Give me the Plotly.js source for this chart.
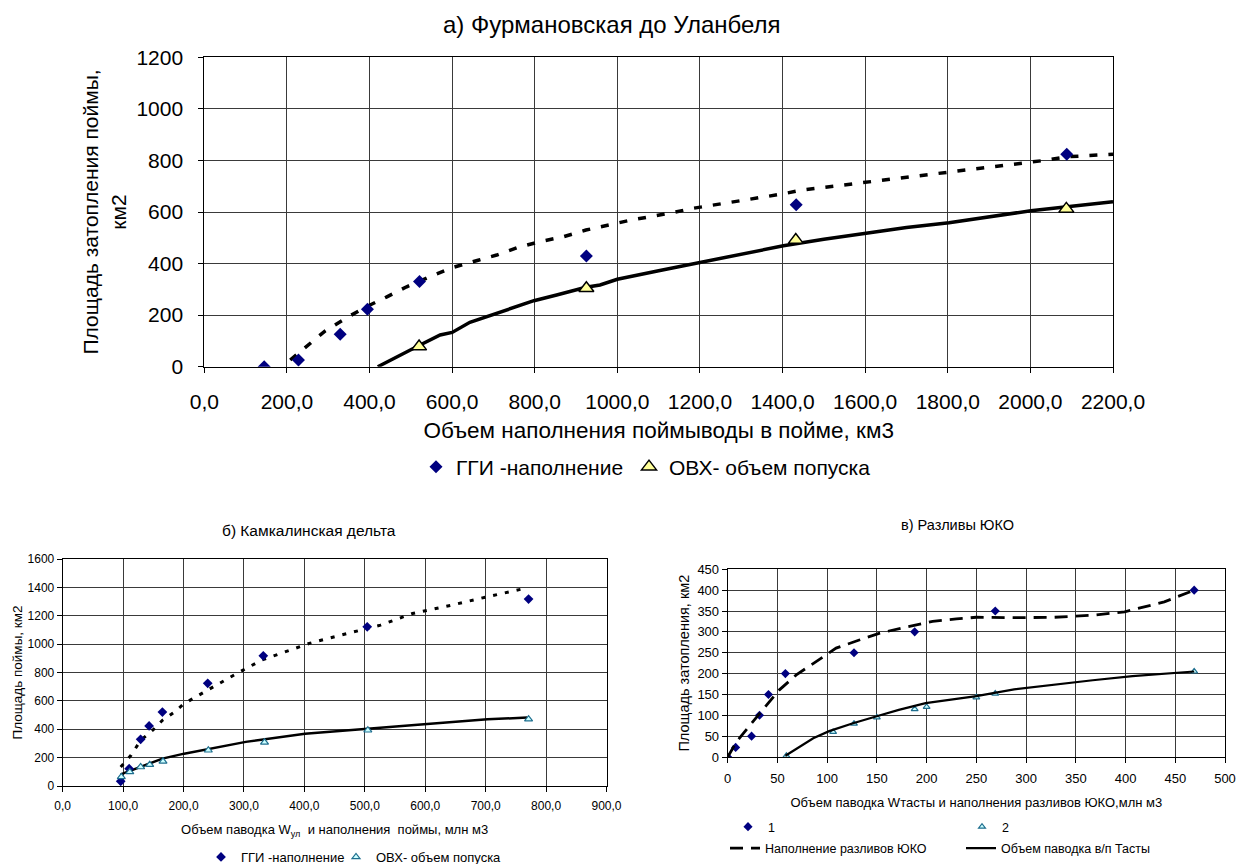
<!DOCTYPE html>
<html><head><meta charset="utf-8">
<script src="https://cdn.plot.ly/plotly-3.0.1.min.js"></script>
<style>html,body{margin:0;padding:0;background:#fff}#chart{width:1239px;height:864px}</style>
</head><body><div id="chart"></div>
<script>
// ---------- а) Фурмановская до Уланбеля ----------
const aGgiVolume = [145, 228, 329, 395, 521, 925, 1433, 2088];
const aGgiArea = [0, 26, 126, 223, 330, 429, 628, 824];
const aOvxVolume = [520, 925, 1432, 2087];
const aOvxArea = [78, 304, 491, 612];
const aFillTrendVolume = [208, 250, 292, 349, 393, 442, 490, 555, 600, 663, 708, 760, 813, 869, 924, 1031, 1079, 1135, 1182, 1284, 1396, 1447, 1610, 1768, 1927, 1982, 2029, 2087, 2200];
const aFillTrendArea = [26, 84, 138, 194, 233, 271, 310, 355, 384, 413, 433, 463, 485, 504, 530, 568, 581, 598, 614, 640, 669, 685, 717, 747, 778, 788, 799, 814, 824];
const aReleaseTrendVolume = [420, 466, 520, 571, 600, 643, 716, 798, 853, 924, 958, 1000, 1100, 1198, 1300, 1402, 1500, 1600, 1700, 1803, 1900, 2001, 2100, 2200];
const aReleaseTrendArea = [0, 39, 82, 123, 133, 172, 213, 256, 278, 308, 317, 339, 372, 403, 437, 469, 494, 517, 540, 558, 582, 605, 622, 640];

// ---------- б) Камкалинская дельта ----------
const bGgiVolume = [96, 110, 129, 143, 165, 240, 332, 504, 771];
const bGgiArea = [33, 122, 329, 423, 521, 724, 918, 1122, 1318];
const bOvxVolume = [97, 111, 129, 144, 166, 241, 334, 505, 771];
const bOvxArea = [64, 99, 134, 150, 174, 252, 308, 393, 471];
const bFillTrendVolume = [96, 113, 129, 149, 165, 185, 201, 244, 283, 329, 369, 408, 460, 526, 579, 644, 703, 749, 765];
const bFillTrendArea = [134, 216, 322, 393, 463, 522, 581, 687, 781, 887, 946, 1005, 1063, 1134, 1216, 1275, 1334, 1381, 1393];
const bReleaseTrendVolume = [96, 113, 165, 201, 244, 303, 401, 506, 598, 703, 769];
const bReleaseTrendArea = [82, 110, 193, 228, 263, 311, 369, 402, 435, 470, 482];

// ---------- в) Разливы ЮКО ----------
const cSeries1Volume = [0, 8, 24, 32, 41, 58, 127, 188, 269, 469];
const cSeries1Area = [0, 23, 50, 100, 150, 200, 250, 300, 350, 400];
const cSeries2Volume = [59, 106, 127, 150, 188, 200, 250, 269, 469];
const cSeries2Area = [3, 60, 80, 95, 115, 120, 143, 152, 205];
const cFillTrendVolume = [0, 9, 24, 41, 52, 69, 91, 109, 133, 153, 180, 206, 230, 250, 288, 328, 367, 399, 439, 469];
const cFillTrendArea = [0, 37, 81, 129, 161, 197, 233, 261, 281, 297, 312, 325, 331, 335, 334, 335, 340, 348, 372, 400];
const cTastyTrendVolume = [58, 72, 86, 102, 126, 149, 172, 199, 226, 250, 288, 328, 367, 407, 447, 469];
const cTastyTrendArea = [3, 25, 45, 62, 81, 97, 113, 129, 138, 146, 162, 174, 184, 194, 201, 205];

const SANS = 'Liberation Sans, Arial, sans-serif';
const W = 1239, H = 864;
const px = v => v / W;
const py = v => 1 - v / H;

const traces = [
  // а
  {x: aFillTrendVolume, y: aFillTrendArea, xaxis: 'x', yaxis: 'y', mode: 'lines', showlegend: false,
   line: {color: '#000', width: 3.5, dash: '8px,11px'}, hoverinfo: 'skip'},
  {x: aReleaseTrendVolume, y: aReleaseTrendArea, xaxis: 'x', yaxis: 'y', mode: 'lines', showlegend: false,
   line: {color: '#000', width: 3.5}, hoverinfo: 'skip'},
  {x: aGgiVolume, y: aGgiArea, xaxis: 'x', yaxis: 'y', mode: 'markers', name: 'ГГИ -наполнение', legend: 'legend',
   marker: {symbol: 'diamond', size: 10, color: '#000080'}},
  {x: aOvxVolume, y: aOvxArea, xaxis: 'x', yaxis: 'y', mode: 'markers', name: 'ОВХ- объем попуска', legend: 'legend2',
   marker: {symbol: 'triangle-up', size: 13, color: '#ffff99', line: {color: '#000', width: 1.5}}},
  // б
  {x: bFillTrendVolume, y: bFillTrendArea, xaxis: 'x2', yaxis: 'y2', mode: 'lines', showlegend: false,
   line: {color: '#000', width: 3, dash: '4px,8px'}, hoverinfo: 'skip'},
  {x: bReleaseTrendVolume, y: bReleaseTrendArea, xaxis: 'x2', yaxis: 'y2', mode: 'lines', showlegend: false,
   line: {color: '#000', width: 2.5}, hoverinfo: 'skip'},
  {x: bGgiVolume, y: bGgiArea, xaxis: 'x2', yaxis: 'y2', mode: 'markers', name: 'ГГИ -наполнение', legend: 'legend3',
   marker: {symbol: 'diamond', size: 7.5, color: '#000080'}},
  {x: bOvxVolume, y: bOvxArea, xaxis: 'x2', yaxis: 'y2', mode: 'markers', name: 'ОВХ- объем попуска', legend: 'legend4',
   marker: {symbol: 'triangle-up', size: 7, color: '#ccffff', line: {color: '#1f6f8f', width: 1.2}}},
  // в
  {x: cSeries1Volume, y: cSeries1Area, xaxis: 'x3', yaxis: 'y3', mode: 'markers', name: '1', legend: 'legend5',
   marker: {symbol: 'diamond', size: 7, color: '#000080'}},
  {x: cSeries2Volume, y: cSeries2Area, xaxis: 'x3', yaxis: 'y3', mode: 'markers', name: '2', legend: 'legend6',
   marker: {symbol: 'triangle-up', size: 6, color: '#ccffff', line: {color: '#1f6f8f', width: 1.2}}},
  {x: cFillTrendVolume, y: cFillTrendArea, xaxis: 'x3', yaxis: 'y3', mode: 'lines', name: 'Наполнение разливов ЮКО', legend: 'legend7',
   line: {color: '#000', width: 2.8, dash: '13px,8px'}},
  {x: cTastyTrendVolume, y: cTastyTrendArea, xaxis: 'x3', yaxis: 'y3', mode: 'lines', name: 'Объем паводка в/п Тасты', legend: 'legend8',
   line: {color: '#000', width: 2.2}}
];

function axisBase(fontSize) {
  return {
    showline: true, linecolor: '#000', linewidth: 1, mirror: true,
    showgrid: true, gridcolor: '#3a3a3a', gridwidth: 1,
    zeroline: false, ticks: 'outside', ticklen: 5, tickcolor: '#000',
    tickfont: {family: SANS, size: fontSize, color: '#000'},
    fixedrange: true
  };
}

function oneLegend(xPx, yPx, size) {
  return {orientation: 'h', x: px(xPx), xanchor: 'left', y: py(yPx), yanchor: 'middle',
    font: {family: SANS, size: size, color: '#000'}, bgcolor: 'rgba(0,0,0,0)', borderwidth: 0};
}

const layout = {
  width: W, height: H,
  margin: {l: 0, r: 0, t: 0, b: 0, autoexpand: false},
  paper_bgcolor: '#fff', plot_bgcolor: '#fff',
  separators: ', ',
  font: {family: SANS, color: '#000'},
  xaxis: Object.assign(axisBase(21), {
    domain: [px(204.3), px(1113)], range: [0, 2200], tick0: 0, dtick: 200, tickformat: '.1f', anchor: 'y',
    ticklabelstandoff: 11,
    title: {text: 'Объем наполнения поймыводы в пойме, км3', font: {family: SANS, size: 22.5}, standoff: 10}
  }),
  yaxis: Object.assign(axisBase(21), {
    domain: [py(366.7), py(57.3)], range: [0, 1200], tick0: 0, dtick: 200, anchor: 'x',
    ticklabelstandoff: 11,
    title: {text: 'Площадь затопления поймы,<br>км2', font: {family: SANS, size: 21}, standoff: 4}
  }),
  xaxis2: Object.assign(axisBase(12), {
    domain: [px(62.7), px(606.5)], range: [0, 900], tick0: 0, dtick: 100, tickformat: '.1f', anchor: 'y2',
    ticklabelstandoff: 4,
    title: {text: 'Объем паводка W<sub>ул</sub>  и наполнения  поймы, млн м3', font: {family: SANS, size: 13}, standoff: 12}
  }),
  yaxis2: Object.assign(axisBase(12), {
    domain: [py(786), py(559)], range: [0, 1600], tick0: 0, dtick: 200, anchor: 'x2',
    title: {text: 'Площадь поймы, км2', font: {family: SANS, size: 13.5}, standoff: 1}
  }),
  xaxis3: Object.assign(axisBase(13), {
    domain: [px(727.7), px(1225)], range: [0, 500], tick0: 0, dtick: 50, anchor: 'y3',
    ticklabelstandoff: 4,
    title: {text: 'Объем паводка Wтасты и наполнения разливов ЮКО,млн м3', font: {family: SANS, size: 13}, standoff: 13}
  }),
  yaxis3: Object.assign(axisBase(13), {
    domain: [py(757), py(569.3)], range: [0, 450], tick0: 0, dtick: 50, anchor: 'x3',
    title: {text: 'Площадь затопления, км2', font: {family: SANS, size: 14.5}, standoff: 4}
  }),
  legend: oneLegend(416, 467, 21),
  legend2: oneLegend(629, 467, 21),
  legend3: oneLegend(201, 857, 13),
  legend4: oneLegend(336, 857, 13),
  legend5: oneLegend(728, 827, 12.5),
  legend6: oneLegend(962, 827, 12.5),
  legend7: oneLegend(725, 848.5, 12.5),
  legend8: oneLegend(961, 848.5, 12.5),
  annotations: [
    {text: 'а) Фурмановская до Уланбеля', xref: 'paper', yref: 'paper', x: px(612), y: py(24),
     xanchor: 'center', yanchor: 'middle', showarrow: false, font: {family: SANS, size: 24}},
    {text: 'б) Камкалинская дельта', xref: 'paper', yref: 'paper', x: px(309), y: py(530),
     xanchor: 'center', yanchor: 'middle', showarrow: false, font: {family: SANS, size: 15.5}},
    {text: 'в) Разливы ЮКО', xref: 'paper', yref: 'paper', x: px(957), y: py(525),
     xanchor: 'center', yanchor: 'middle', showarrow: false, font: {family: SANS, size: 14.5}}
  ],
  showlegend: true
};

Plotly.newPlot('chart', traces, layout, {displayModeBar: false, staticPlot: true});
</script>
</body></html>
